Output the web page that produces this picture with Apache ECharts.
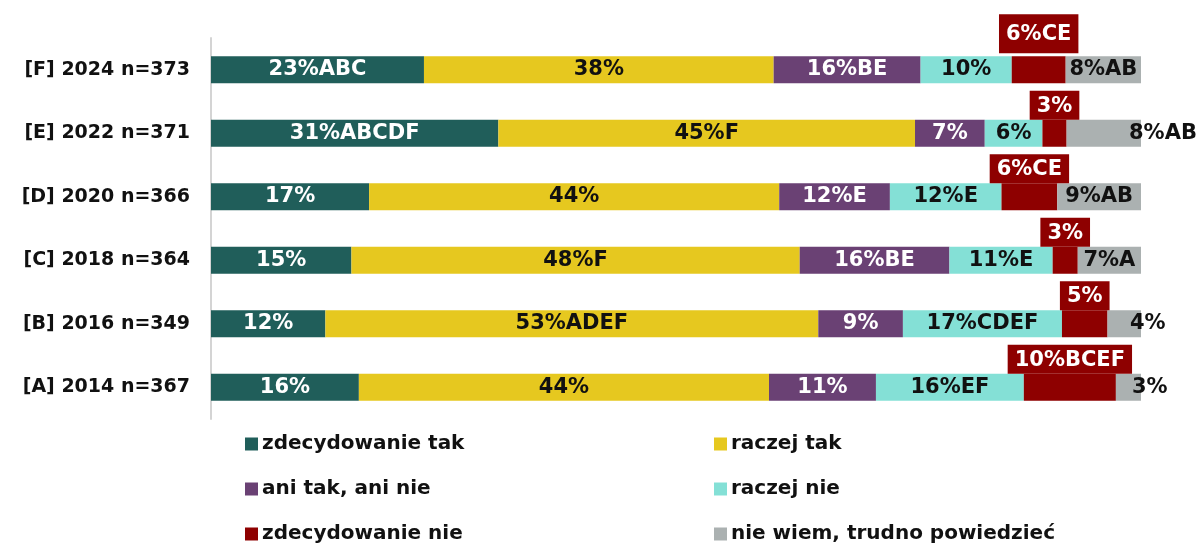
<!DOCTYPE html>
<html>
<head>
<meta charset="utf-8">
<script src="https://cdn.jsdelivr.net/npm/echarts@6/dist/echarts.min.js"></script>
<style>
  html, body { margin: 0; padding: 0; background: #fff; }
  #chart { width: 1201px; height: 545px; }
</style>
</head>
<body>
<div id="chart"></div>
<script>
// rows, top to bottom
var categories = ['[F] 2024 n=373', '[E] 2022 n=371', '[D] 2020 n=366', '[C] 2018 n=364', '[B] 2016 n=349', '[A] 2014 n=367'];

var seriesNames = ['zdecydowanie tak', 'raczej tak', 'ani tak, ani nie', 'raczej nie', 'zdecydowanie nie', 'nie wiem, trudno powiedzieć'];

// segment widths (%)
var zdecydowanieTak = [22.9, 30.9, 17.0, 15.1, 12.3, 15.9];
var raczejTak       = [37.6, 44.8, 44.1, 48.2, 53.0, 44.1];
var aniTakAniNie    = [15.8, 7.5, 11.9, 16.1, 9.1, 11.5];
var raczejNie       = [9.8, 6.2, 12.0, 11.1, 17.1, 15.9];
var zdecydowanieNie = [5.8, 2.6, 6.0, 2.7, 4.9, 9.9];
var nieWiem         = [8.1, 8.0, 9.0, 6.8, 3.6, 2.7];

// printed labels
var lblZdecTak = ['23%ABC', '31%ABCDF', '17%', '15%', '12%', '16%'];
var lblRaczejTak = ['38%', '45%F', '44%', '48%F', '53%ADEF', '44%'];
var lblAni = ['16%BE', '7%', '12%E', '16%BE', '9%', '11%'];
var lblRaczejNie = ['10%', '6%', '12%E', '11%E', '17%CDEF', '16%EF'];
var lblZdecNie = ['6%CE', '3%', '6%CE', '3%', '5%', '10%BCEF'];
var lblNieWiem = ['8%AB', '8%AB', '9%AB', '7%A', '4%', '3%'];

var colors = ['#205e5a', '#e6c81f', '#6a4174', '#84e0d6', '#8e0000', '#abb1b1'];
var labelColors = ['#ffffff', '#111111', '#ffffff', '#111111', '#ffffff', '#111111'];

var values = [zdecydowanieTak, raczejTak, aniTakAniNie, raczejNie, zdecydowanieNie, nieWiem];
var labels = [lblZdecTak, lblRaczejTak, lblAni, lblRaczejNie, lblZdecNie, lblNieWiem];

var FONT = '"DejaVu Sans", sans-serif';

// gray labels that sit past the bar end
var grayOutside = { 1: -17, 4: -16, 5: -14 };

var series = values.map(function (vals, s) {
    return {
        name: seriesNames[s],
        type: 'bar',
        stack: 'total',
        barWidth: 27,
        itemStyle: { color: colors[s] },
        label: {
            show: true,
            position: s === 4 ? 'top' : 'inside',
            distance: s === 4 ? 0 : 5,
            color: labelColors[s],
            fontFamily: FONT,
            fontWeight: 'bold',
            fontSize: 21,
            backgroundColor: s === 4 ? colors[4] : 'transparent',
            padding: s === 4 ? [5, 7, 3, 7] : 0,
            formatter: function (p) { return labels[s][p.dataIndex]; }
        },
        data: vals.map(function (v, i) {
            if (s === 5 && grayOutside[i] !== undefined) {
                return { value: v, label: { position: 'right', offset: [grayOutside[i], 0] } };
            }
            if (s === 4 && i === 0) {
                // the top box is a bit taller and floats above the bar
                return { value: v, label: { distance: 3, padding: [10, 7, 8, 7] } };
            }
            return v;
        })
    };
});

// legend: two columns, three rows
var legendSpots = [[240, 429], [709, 429], [240, 474], [709, 474], [240, 519], [709, 519]];
var legends = seriesNames.map(function (name, s) {
    return {
        data: [name],
        left: legendSpots[s][0], top: legendSpots[s][1],
        itemWidth: 13, itemHeight: 13, icon: 'rect', itemGap: 0,
        textStyle: { fontFamily: FONT, fontWeight: 'bold', fontSize: 20, color: '#111', padding: [0, 0, 0, -1] }
    };
});

var chart = echarts.init(document.getElementById('chart'));
chart.setOption({
    animation: false,
    grid: { left: 211, right: 60, top: 38, bottom: 126, containLabel: false },
    xAxis: { type: 'value', min: 0, max: 100, show: false },
    yAxis: {
        type: 'category',
        inverse: true,
        data: categories,
        axisLine: { show: true, lineStyle: { color: '#d4d4d4', width: 2 } },
        axisTick: { show: false },
        axisLabel: { margin: 21, color: '#111', fontFamily: FONT, fontWeight: 'bold', fontSize: 19 }
    },
    legend: legends,
    series: series
});
</script>
</body>
</html>
